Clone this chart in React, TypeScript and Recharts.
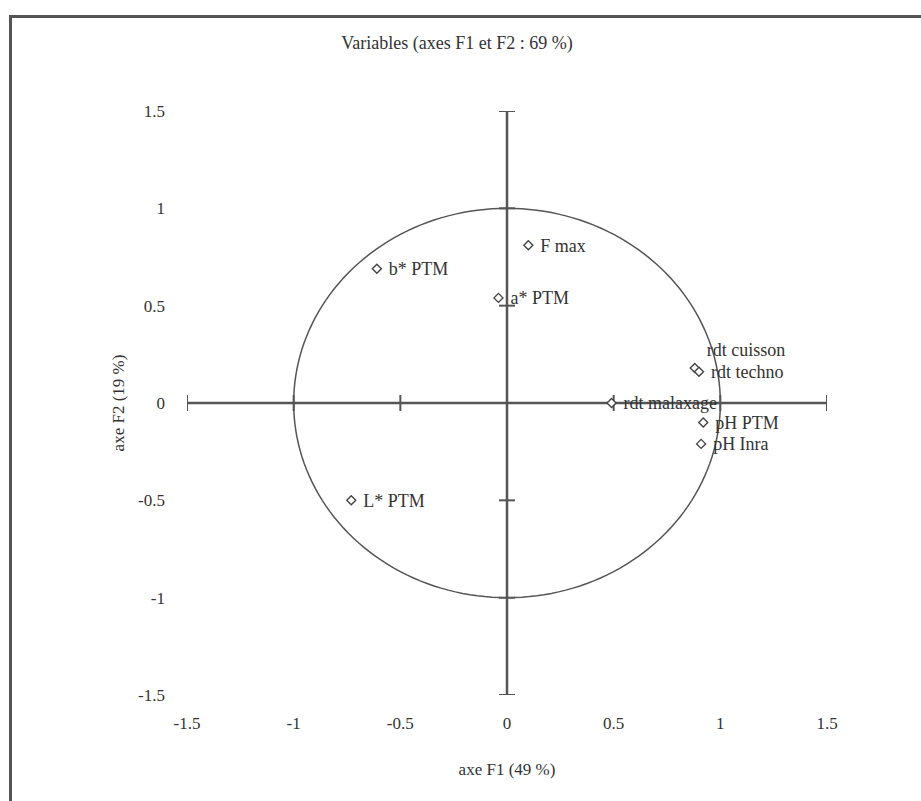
import React from "react";
import {
  ScatterChart,
  Scatter,
  XAxis,
  YAxis,
  ReferenceLine,
} from "recharts";

// PCA loadings on the first two factors
const variables = [
  "F max",
  "b* PTM",
  "a* PTM",
  "rdt cuisson",
  "rdt techno",
  "rdt malaxage",
  "pH PTM",
  "pH Inra",
  "L* PTM",
];
const f1 = [0.1, -0.61, -0.04, 0.88, 0.9, 0.49, 0.92, 0.91, -0.73];
const f2 = [0.81, 0.69, 0.54, 0.18, 0.16, 0.0, -0.1, -0.21, -0.5];

const axisTicks = [-1.5, -1, -0.5, 0, 0.5, 1, 1.5];
const crossTicks = [-1.5, -1, -0.5, 0.5, 1, 1.5];

const title = "Variables (axes F1 et F2 : 69 %)";
const xTitle = "axe F1 (49 %)";
const yTitle = "axe F2 (19 %)";

const points = variables.map((name, i) => ({ name, x: f1[i], y: f2[i] }));

// unit correlation circle
const circle = Array.from({ length: 181 }, (_, i) => {
  const a = (i / 180) * 2 * Math.PI;
  return { x: Math.cos(a), y: Math.sin(a) };
});

const hTicks = crossTicks.map((v) => ({ x: v, y: 0 }));
const vTicks = crossTicks.map((v) => ({ x: 0, y: v }));

const INK = "#555";
const TEXT = "#333";
const FONT = "'Liberation Serif', 'DejaVu Serif', serif";

// label nudges for crowded points
const labelShift: Record<string, number> = { "rdt cuisson": -18 };

const Marker = (props: any) => {
  const { cx, cy, payload } = props;
  const r = 4.5;
  const dy = labelShift[payload.name] ?? 0;
  return (
    <g>
      <path
        d={`M${cx},${cy - r}L${cx + r},${cy}L${cx},${cy + r}L${cx - r},${cy}Z`}
        fill="#fff"
        stroke="#444"
        strokeWidth={1.4}
      />
      <text
        x={cx + 12}
        y={cy + dy}
        dy="0.35em"
        fontSize={18}
        fontFamily={FONT}
        fill={TEXT}
      >
        {payload.name}
      </text>
    </g>
  );
};

const VTick = (props: any) => (
  <line x1={props.cx} x2={props.cx} y1={props.cy - 8} y2={props.cy + 8} stroke={INK} strokeWidth={2} />
);
const HTick = (props: any) => (
  <line x1={props.cx - 8} x2={props.cx + 8} y1={props.cy} y2={props.cy} stroke={INK} strokeWidth={2} />
);

export default function App() {
  return (
    <div style={{ position: "absolute", left: 0, top: 0, width: 921, height: 801, background: "#fff" }}>
      <div
        style={{
          position: "absolute",
          left: 9,
          top: 15,
          width: 912,
          height: 786,
          borderTop: `3px solid ${INK}`,
          borderLeft: `3px solid ${INK}`,
          boxSizing: "border-box",
        }}
      />
      <div
        style={{
          position: "absolute",
          left: 0,
          top: 33,
          width: 914,
          textAlign: "center",
          fontFamily: FONT,
          fontSize: 18,
          lineHeight: "20px",
          color: TEXT,
        }}
      >
        {title}
      </div>
      <div style={{ position: "absolute", left: 0, top: 0 }}>
        <ScatterChart
          width={921}
          height={801}
          margin={{ top: 111, right: 94, bottom: 76, left: 127 }}
        >
          <XAxis
            type="number"
            dataKey="x"
            domain={[-1.5, 1.5]}
            ticks={axisTicks}
            allowDataOverflow
            axisLine={false}
            tickLine={false}
            tickSize={6}
            tickMargin={16}
            height={30}
            tick={{ fontSize: 17, fontFamily: FONT, fill: TEXT }}
            label={{
              value: xTitle,
              position: "bottom",
              offset: 38,
              style: { fontSize: 17, fontFamily: FONT, fill: TEXT },
            }}
          />
          <YAxis
            type="number"
            dataKey="y"
            domain={[-1.5, 1.5]}
            ticks={axisTicks}
            allowDataOverflow
            axisLine={false}
            tickLine={false}
            tickSize={6}
            tickMargin={16}
            width={60}
            tick={{ fontSize: 17, fontFamily: FONT, fill: TEXT }}
            label={{
              value: yTitle,
              angle: -90,
              position: "insideLeft",
              offset: -9,
              style: { fontSize: 17, fontFamily: FONT, fill: TEXT, textAnchor: "middle" },
            }}
          />
          <ReferenceLine y={0} stroke={INK} strokeWidth={2.5} />
          <ReferenceLine x={0} stroke={INK} strokeWidth={2.5} />
          <Scatter
            data={circle}
            line={{ stroke: INK, strokeWidth: 1.5 }}
            lineType="joint"
            shape={() => <g />}
            isAnimationActive={false}
          />
          <Scatter data={hTicks} shape={VTick} isAnimationActive={false} />
          <Scatter data={vTicks} shape={HTick} isAnimationActive={false} />
          <Scatter data={points} shape={Marker} isAnimationActive={false} />
        </ScatterChart>
      </div>
    </div>
  );
}
